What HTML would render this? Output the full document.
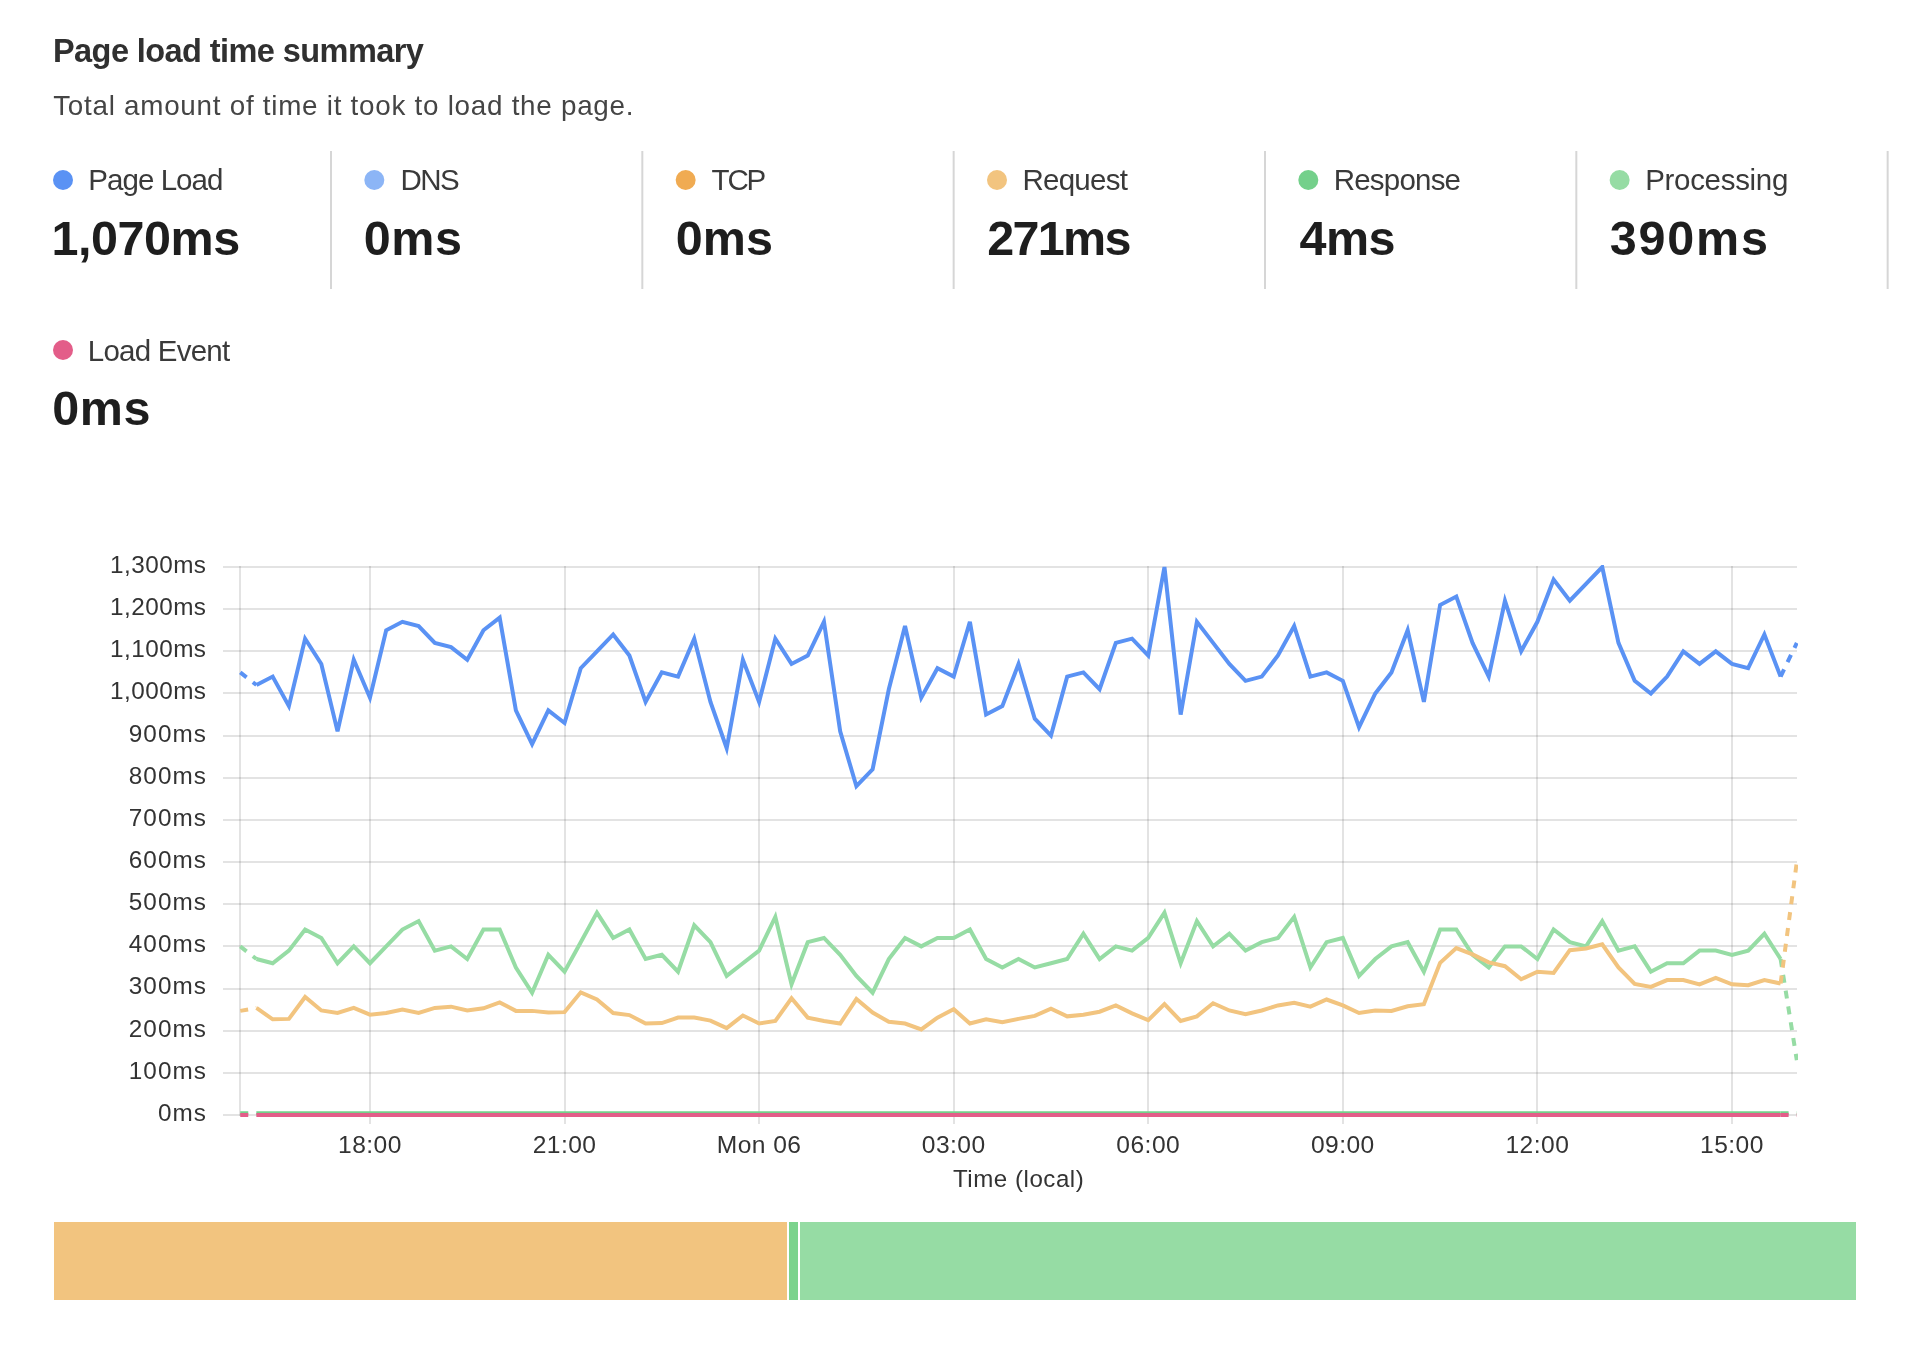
<!DOCTYPE html>
<html><head><meta charset="utf-8"><style>
html,body{margin:0;padding:0;background:#fff;width:1910px;height:1352px;overflow:hidden}
svg{display:block;will-change:transform}
text{font-family:"Liberation Sans",sans-serif}
.title{font-size:32.5px;font-weight:bold;fill:#303030;letter-spacing:-0.5px}
.sub{font-size:27.8px;fill:#454545;letter-spacing:0.73px}
.lab{font-size:29.5px;fill:#3a3a3a}
.val{font-size:48.5px;font-weight:bold;fill:#1e1e1e;letter-spacing:-0.45px}
.yl{font-size:24.3px;fill:#333;letter-spacing:0.48px}
.xl{font-size:24.6px;fill:#333;letter-spacing:0.45px}
.xt{font-size:24.1px;fill:#333;letter-spacing:0.6px}
</style></head><body>
<svg width="1910" height="1352" viewBox="0 0 1910 1352">
<text x="53.0" y="61.6" class="title" style="letter-spacing:-0.571px">Page load time summary</text>
<text x="53.2" y="115.2" class="sub" style="letter-spacing:0.74px">Total amount of time it took to load the page.</text>
<circle cx="63.00" cy="180" r="10" fill="#5A92F4"/><text x="88.3" y="190" class="lab" style="letter-spacing:-0.95px">Page Load</text><text x="51.6" y="255.2" class="val" style="letter-spacing:-0.483px">1,070ms</text><rect x="330.00" y="151" width="2" height="138" fill="#d6d6d6"/><circle cx="374.33" cy="180" r="10" fill="#8CB5F6"/><text x="400.5" y="190" class="lab" style="letter-spacing:-1.6px">DNS</text><text x="363.7" y="255.2" class="val" style="letter-spacing:0.6px">0ms</text><rect x="641.33" y="151" width="2" height="138" fill="#d6d6d6"/><circle cx="685.66" cy="180" r="10" fill="#F0AB52"/><text x="711.6" y="190" class="lab" style="letter-spacing:-2.2px">TCP</text><text x="675.7" y="255.2" class="val" style="letter-spacing:0.1px">0ms</text><rect x="952.66" y="151" width="2" height="138" fill="#d6d6d6"/><circle cx="996.99" cy="180" r="10" fill="#F2C47F"/><text x="1022.4" y="190" class="lab" style="letter-spacing:-0.733px">Request</text><text x="987.3" y="255.2" class="val" style="letter-spacing:-1.7px">271ms</text><rect x="1263.99" y="151" width="2" height="138" fill="#d6d6d6"/><circle cx="1308.32" cy="180" r="10" fill="#74D08B"/><text x="1333.7" y="190" class="lab" style="letter-spacing:-0.786px">Response</text><text x="1299.6" y="255.2" class="val" style="letter-spacing:-0.65px">4ms</text><rect x="1575.32" y="151" width="2" height="138" fill="#d6d6d6"/><circle cx="1619.65" cy="180" r="10" fill="#96DCA4"/><text x="1645.2" y="190" class="lab" style="letter-spacing:-0.311px">Processing</text><text x="1609.8" y="255.2" class="val" style="letter-spacing:1.8px">390ms</text><rect x="1886.65" y="151" width="2" height="138" fill="#d6d6d6"/><circle cx="63" cy="350" r="10" fill="#E35D89"/><text x="87.8" y="360.5" class="lab" style="letter-spacing:-0.767px">Load Event</text><text x="52.2" y="425" class="val" style="letter-spacing:0.6px">0ms</text>
<line x1="223" y1="1115.00" x2="1797" y2="1115.00" stroke="rgba(0,0,0,0.11)" stroke-width="2"/><line x1="223" y1="1073.00" x2="1797" y2="1073.00" stroke="rgba(0,0,0,0.11)" stroke-width="2"/><line x1="223" y1="1031.00" x2="1797" y2="1031.00" stroke="rgba(0,0,0,0.11)" stroke-width="2"/><line x1="223" y1="989.00" x2="1797" y2="989.00" stroke="rgba(0,0,0,0.11)" stroke-width="2"/><line x1="223" y1="946.00" x2="1797" y2="946.00" stroke="rgba(0,0,0,0.11)" stroke-width="2"/><line x1="223" y1="904.00" x2="1797" y2="904.00" stroke="rgba(0,0,0,0.11)" stroke-width="2"/><line x1="223" y1="862.00" x2="1797" y2="862.00" stroke="rgba(0,0,0,0.11)" stroke-width="2"/><line x1="223" y1="820.00" x2="1797" y2="820.00" stroke="rgba(0,0,0,0.11)" stroke-width="2"/><line x1="223" y1="778.00" x2="1797" y2="778.00" stroke="rgba(0,0,0,0.11)" stroke-width="2"/><line x1="223" y1="736.00" x2="1797" y2="736.00" stroke="rgba(0,0,0,0.11)" stroke-width="2"/><line x1="223" y1="693.00" x2="1797" y2="693.00" stroke="rgba(0,0,0,0.11)" stroke-width="2"/><line x1="223" y1="651.00" x2="1797" y2="651.00" stroke="rgba(0,0,0,0.11)" stroke-width="2"/><line x1="223" y1="609.00" x2="1797" y2="609.00" stroke="rgba(0,0,0,0.11)" stroke-width="2"/><line x1="223" y1="567.00" x2="1797" y2="567.00" stroke="rgba(0,0,0,0.11)" stroke-width="2"/><line x1="370.00" y1="566" x2="370.00" y2="1124" stroke="rgba(0,0,0,0.11)" stroke-width="2"/><line x1="565.00" y1="566" x2="565.00" y2="1124" stroke="rgba(0,0,0,0.11)" stroke-width="2"/><line x1="759.00" y1="566" x2="759.00" y2="1124" stroke="rgba(0,0,0,0.11)" stroke-width="2"/><line x1="954.00" y1="566" x2="954.00" y2="1124" stroke="rgba(0,0,0,0.11)" stroke-width="2"/><line x1="1148.00" y1="566" x2="1148.00" y2="1124" stroke="rgba(0,0,0,0.11)" stroke-width="2"/><line x1="1343.00" y1="566" x2="1343.00" y2="1124" stroke="rgba(0,0,0,0.11)" stroke-width="2"/><line x1="1537.00" y1="566" x2="1537.00" y2="1124" stroke="rgba(0,0,0,0.11)" stroke-width="2"/><line x1="1732.00" y1="566" x2="1732.00" y2="1124" stroke="rgba(0,0,0,0.11)" stroke-width="2"/><line x1="240" y1="566" x2="240" y2="1116" stroke="rgba(0,0,0,0.11)" stroke-width="2"/>
<text x="206.80" y="1120.90" text-anchor="end" class="yl" style="letter-spacing:1.0px">0ms</text><text x="206.80" y="1078.75" text-anchor="end" class="yl" style="letter-spacing:1.0px">100ms</text><text x="206.80" y="1036.59" text-anchor="end" class="yl" style="letter-spacing:1.0px">200ms</text><text x="206.80" y="994.44" text-anchor="end" class="yl" style="letter-spacing:1.0px">300ms</text><text x="206.80" y="952.28" text-anchor="end" class="yl" style="letter-spacing:1.0px">400ms</text><text x="206.80" y="910.13" text-anchor="end" class="yl" style="letter-spacing:1.0px">500ms</text><text x="206.80" y="867.98" text-anchor="end" class="yl" style="letter-spacing:1.0px">600ms</text><text x="206.80" y="825.82" text-anchor="end" class="yl" style="letter-spacing:1.0px">700ms</text><text x="206.80" y="783.67" text-anchor="end" class="yl" style="letter-spacing:1.0px">800ms</text><text x="206.80" y="741.52" text-anchor="end" class="yl" style="letter-spacing:1.0px">900ms</text><text x="206.50" y="699.36" text-anchor="end" class="yl" style="letter-spacing:0.48px">1,000ms</text><text x="206.50" y="657.21" text-anchor="end" class="yl" style="letter-spacing:0.48px">1,100ms</text><text x="206.50" y="615.05" text-anchor="end" class="yl" style="letter-spacing:0.48px">1,200ms</text><text x="206.50" y="572.90" text-anchor="end" class="yl" style="letter-spacing:0.48px">1,300ms</text>
<text x="369.96" y="1153" text-anchor="middle" class="xl">18:00</text><text x="564.53" y="1153" text-anchor="middle" class="xl">21:00</text><text x="759.10" y="1153" text-anchor="middle" class="xl">Mon 06</text><text x="953.67" y="1153" text-anchor="middle" class="xl">03:00</text><text x="1148.25" y="1153" text-anchor="middle" class="xl">06:00</text><text x="1342.82" y="1153" text-anchor="middle" class="xl">09:00</text><text x="1537.39" y="1153" text-anchor="middle" class="xl">12:00</text><text x="1731.96" y="1153" text-anchor="middle" class="xl">15:00</text>
<text x="953.0" y="1187" class="xt" style="letter-spacing:0.527px">Time (local)</text>
<clipPath id="ca"><rect x="200" y="565" width="1598" height="560"/></clipPath><g clip-path="url(#ca)"><polyline points="240.25,672.39 256.46,685.03" fill="none" stroke="#5A92F4" stroke-width="4" stroke-dasharray="8 8" stroke-linejoin="miter"/><polyline points="256.46,685.03 272.68,676.60 288.89,706.11 305.11,638.66 321.32,663.95 337.54,731.40 353.75,659.74 369.96,697.68 386.18,630.23 402.39,621.80 418.61,626.02 434.82,642.88 451.03,647.09 467.25,659.74 483.46,630.23 499.68,617.59 515.89,710.32 532.11,744.05 548.32,710.32 564.53,722.97 580.75,668.17 596.96,651.31 613.18,634.45 629.39,655.52 645.61,701.89 661.82,672.39 678.03,676.60 694.25,638.66 710.46,701.89 726.68,748.26 742.89,659.74 759.10,701.89 775.32,638.66 791.53,663.95 807.75,655.52 823.96,621.80 840.18,731.40 856.39,786.20 872.60,769.34 888.82,689.25 905.03,626.02 921.25,697.68 937.46,668.17 953.67,676.60 969.89,621.80 986.10,714.54 1002.32,706.11 1018.53,663.95 1034.75,718.75 1050.96,735.62 1067.17,676.60 1083.39,672.39 1099.60,689.25 1115.82,642.88 1132.03,638.66 1148.25,655.52 1164.46,567.00 1180.67,714.54 1196.89,621.80 1213.10,642.88 1229.32,663.95 1245.53,680.82 1261.74,676.60 1277.96,655.52 1294.17,626.02 1310.39,676.60 1326.60,672.39 1342.82,680.82 1359.03,727.19 1375.24,693.46 1391.46,672.39 1407.67,630.23 1423.89,701.89 1440.10,604.94 1456.32,596.51 1472.53,642.88 1488.74,676.60 1504.96,600.72 1521.17,651.31 1537.39,621.80 1553.60,579.65 1569.81,600.72 1586.03,583.86 1602.24,567.00 1618.46,642.88 1634.67,680.82 1650.89,693.46 1667.10,676.60 1683.31,651.31 1699.53,663.95 1715.74,651.31 1731.96,663.95 1748.17,668.17 1764.38,634.45 1780.60,676.60" fill="none" stroke="#5A92F4" stroke-width="4" stroke-linejoin="miter" stroke-miterlimit="4"/><polyline points="1780.60,676.60 1796.81,642.88" fill="none" stroke="#5A92F4" stroke-width="4" stroke-dasharray="8 8"/><polyline points="240.25,946.38 256.46,959.03" fill="none" stroke="#96DCA4" stroke-width="4" stroke-dasharray="8 8" stroke-linejoin="miter"/><polyline points="256.46,959.03 272.68,963.25 288.89,950.60 305.11,929.52 321.32,937.95 337.54,963.25 353.75,946.38 369.96,963.25 386.18,946.38 402.39,929.52 418.61,921.09 434.82,950.60 451.03,946.38 467.25,959.03 483.46,929.52 499.68,929.52 515.89,967.46 532.11,992.75 548.32,954.82 564.53,971.68 580.75,942.17 596.96,912.66 613.18,937.95 629.39,929.52 645.61,959.03 661.82,954.82 678.03,971.68 694.25,925.31 710.46,942.17 726.68,975.89 742.89,963.25 759.10,950.60 775.32,916.88 791.53,984.32 807.75,942.17 823.96,937.95 840.18,954.82 856.39,975.89 872.60,992.75 888.82,959.03 905.03,937.95 921.25,946.38 937.46,937.95 953.67,937.95 969.89,929.52 986.10,959.03 1002.32,967.46 1018.53,959.03 1034.75,967.46 1050.96,963.25 1067.17,959.03 1083.39,933.74 1099.60,959.03 1115.82,946.38 1132.03,950.60 1148.25,937.95 1164.46,912.66 1180.67,963.25 1196.89,921.09 1213.10,946.38 1229.32,933.74 1245.53,950.60 1261.74,942.17 1277.96,937.95 1294.17,916.88 1310.39,967.46 1326.60,942.17 1342.82,937.95 1359.03,975.89 1375.24,959.03 1391.46,946.38 1407.67,942.17 1423.89,971.68 1440.10,929.52 1456.32,929.52 1472.53,954.82 1488.74,967.46 1504.96,946.38 1521.17,946.38 1537.39,959.03 1553.60,929.52 1569.81,942.17 1586.03,946.38 1602.24,921.09 1618.46,950.60 1634.67,946.38 1650.89,971.68 1667.10,963.25 1683.31,963.25 1699.53,950.60 1715.74,950.60 1731.96,954.82 1748.17,950.60 1764.38,933.74 1780.60,959.03" fill="none" stroke="#96DCA4" stroke-width="4" stroke-linejoin="miter" stroke-miterlimit="4"/><polyline points="1780.60,959.03 1796.81,1060.20" fill="none" stroke="#96DCA4" stroke-width="4" stroke-dasharray="8 8"/><polyline points="240.25,1010.88 256.46,1007.93" fill="none" stroke="#F2C47F" stroke-width="4" stroke-dasharray="8 8" stroke-linejoin="miter"/><polyline points="256.46,1007.93 272.68,1019.31 288.89,1018.89 305.11,996.97 321.32,1010.46 337.54,1012.99 353.75,1007.93 369.96,1014.67 386.18,1012.99 402.39,1009.62 418.61,1012.99 434.82,1007.93 451.03,1006.66 467.25,1010.46 483.46,1008.35 499.68,1002.45 515.89,1010.88 532.11,1010.88 548.32,1012.57 564.53,1012.14 580.75,992.33 596.96,999.50 613.18,1012.99 629.39,1015.10 645.61,1023.53 661.82,1023.10 678.03,1017.62 694.25,1017.62 710.46,1020.58 726.68,1028.16 742.89,1015.52 759.10,1023.53 775.32,1021.00 791.53,998.23 807.75,1017.62 823.96,1021.00 840.18,1023.53 856.39,999.08 872.60,1012.57 888.82,1021.84 905.03,1023.53 921.25,1029.43 937.46,1017.62 953.67,1009.19 969.89,1023.53 986.10,1019.31 1002.32,1022.26 1018.53,1018.89 1034.75,1015.94 1050.96,1008.77 1067.17,1016.36 1083.39,1014.67 1099.60,1011.72 1115.82,1005.40 1132.03,1013.41 1148.25,1020.15 1164.46,1004.14 1180.67,1021.00 1196.89,1016.36 1213.10,1003.29 1229.32,1010.46 1245.53,1014.25 1261.74,1010.46 1277.96,1005.40 1294.17,1002.87 1310.39,1006.66 1326.60,999.50 1342.82,1005.40 1359.03,1012.99 1375.24,1010.46 1391.46,1010.88 1407.67,1006.24 1423.89,1004.14 1440.10,962.82 1456.32,948.07 1472.53,954.39 1488.74,962.40 1504.96,966.20 1521.17,979.26 1537.39,971.68 1553.60,972.94 1569.81,950.18 1586.03,948.49 1602.24,944.28 1618.46,967.46 1634.67,983.90 1650.89,986.85 1667.10,980.11 1683.31,980.11 1699.53,984.32 1715.74,978.00 1731.96,984.32 1748.17,985.17 1764.38,980.11 1780.60,983.48" fill="none" stroke="#F2C47F" stroke-width="4" stroke-linejoin="miter" stroke-miterlimit="4"/><polyline points="1780.60,983.48 1796.81,862.08" fill="none" stroke="#F2C47F" stroke-width="4" stroke-dasharray="8 8"/><polyline points="240.25,1113.31 256.46,1113.31" fill="none" stroke="#74D08B" stroke-width="4" stroke-dasharray="8 8" stroke-linejoin="miter"/><polyline points="256.46,1113.31 272.68,1113.31 288.89,1113.31 305.11,1113.31 321.32,1113.31 337.54,1113.31 353.75,1113.31 369.96,1113.31 386.18,1113.31 402.39,1113.31 418.61,1113.31 434.82,1113.31 451.03,1113.31 467.25,1113.31 483.46,1113.31 499.68,1113.31 515.89,1113.31 532.11,1113.31 548.32,1113.31 564.53,1113.31 580.75,1113.31 596.96,1113.31 613.18,1113.31 629.39,1113.31 645.61,1113.31 661.82,1113.31 678.03,1113.31 694.25,1113.31 710.46,1113.31 726.68,1113.31 742.89,1113.31 759.10,1113.31 775.32,1113.31 791.53,1113.31 807.75,1113.31 823.96,1113.31 840.18,1113.31 856.39,1113.31 872.60,1113.31 888.82,1113.31 905.03,1113.31 921.25,1113.31 937.46,1113.31 953.67,1113.31 969.89,1113.31 986.10,1113.31 1002.32,1113.31 1018.53,1113.31 1034.75,1113.31 1050.96,1113.31 1067.17,1113.31 1083.39,1113.31 1099.60,1113.31 1115.82,1113.31 1132.03,1113.31 1148.25,1113.31 1164.46,1113.31 1180.67,1113.31 1196.89,1113.31 1213.10,1113.31 1229.32,1113.31 1245.53,1113.31 1261.74,1113.31 1277.96,1113.31 1294.17,1113.31 1310.39,1113.31 1326.60,1113.31 1342.82,1113.31 1359.03,1113.31 1375.24,1113.31 1391.46,1113.31 1407.67,1113.31 1423.89,1113.31 1440.10,1113.31 1456.32,1113.31 1472.53,1113.31 1488.74,1113.31 1504.96,1113.31 1521.17,1113.31 1537.39,1113.31 1553.60,1113.31 1569.81,1113.31 1586.03,1113.31 1602.24,1113.31 1618.46,1113.31 1634.67,1113.31 1650.89,1113.31 1667.10,1113.31 1683.31,1113.31 1699.53,1113.31 1715.74,1113.31 1731.96,1113.31 1748.17,1113.31 1764.38,1113.31 1780.60,1113.31" fill="none" stroke="#74D08B" stroke-width="4" stroke-linejoin="miter" stroke-miterlimit="4"/><polyline points="1780.60,1113.31 1796.81,1113.31" fill="none" stroke="#74D08B" stroke-width="4" stroke-dasharray="8 8"/><polyline points="240.25,1115.00 256.46,1115.00" fill="none" stroke="#E35D89" stroke-width="4" stroke-dasharray="8 8" stroke-linejoin="miter"/><polyline points="256.46,1115.00 272.68,1115.00 288.89,1115.00 305.11,1115.00 321.32,1115.00 337.54,1115.00 353.75,1115.00 369.96,1115.00 386.18,1115.00 402.39,1115.00 418.61,1115.00 434.82,1115.00 451.03,1115.00 467.25,1115.00 483.46,1115.00 499.68,1115.00 515.89,1115.00 532.11,1115.00 548.32,1115.00 564.53,1115.00 580.75,1115.00 596.96,1115.00 613.18,1115.00 629.39,1115.00 645.61,1115.00 661.82,1115.00 678.03,1115.00 694.25,1115.00 710.46,1115.00 726.68,1115.00 742.89,1115.00 759.10,1115.00 775.32,1115.00 791.53,1115.00 807.75,1115.00 823.96,1115.00 840.18,1115.00 856.39,1115.00 872.60,1115.00 888.82,1115.00 905.03,1115.00 921.25,1115.00 937.46,1115.00 953.67,1115.00 969.89,1115.00 986.10,1115.00 1002.32,1115.00 1018.53,1115.00 1034.75,1115.00 1050.96,1115.00 1067.17,1115.00 1083.39,1115.00 1099.60,1115.00 1115.82,1115.00 1132.03,1115.00 1148.25,1115.00 1164.46,1115.00 1180.67,1115.00 1196.89,1115.00 1213.10,1115.00 1229.32,1115.00 1245.53,1115.00 1261.74,1115.00 1277.96,1115.00 1294.17,1115.00 1310.39,1115.00 1326.60,1115.00 1342.82,1115.00 1359.03,1115.00 1375.24,1115.00 1391.46,1115.00 1407.67,1115.00 1423.89,1115.00 1440.10,1115.00 1456.32,1115.00 1472.53,1115.00 1488.74,1115.00 1504.96,1115.00 1521.17,1115.00 1537.39,1115.00 1553.60,1115.00 1569.81,1115.00 1586.03,1115.00 1602.24,1115.00 1618.46,1115.00 1634.67,1115.00 1650.89,1115.00 1667.10,1115.00 1683.31,1115.00 1699.53,1115.00 1715.74,1115.00 1731.96,1115.00 1748.17,1115.00 1764.38,1115.00 1780.60,1115.00" fill="none" stroke="#E35D89" stroke-width="4" stroke-linejoin="miter" stroke-miterlimit="4"/><polyline points="1780.60,1115.00 1796.81,1115.00" fill="none" stroke="#E35D89" stroke-width="4" stroke-dasharray="8 8"/></g>
<rect x="54" y="1222" width="733" height="78" fill="#F2C47F"/>
<rect x="789" y="1222" width="9" height="78" fill="#7BD38D"/>
<rect x="800" y="1222" width="1056" height="78" fill="#96DCA4"/>
</svg>
</body></html>
